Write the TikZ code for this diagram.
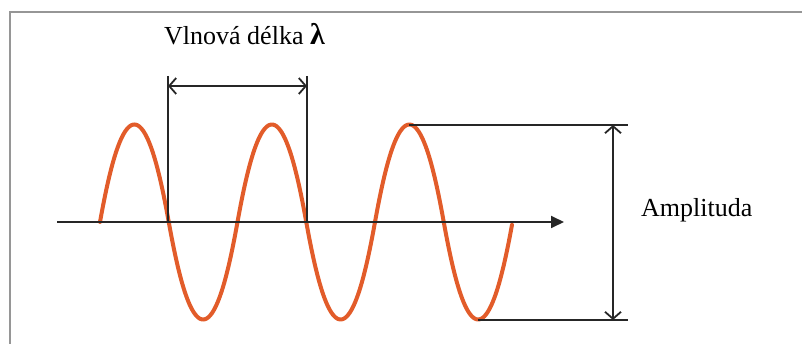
\documentclass[tikz,border=0pt]{standalone}
\usepackage{fontspec}
\setmainfont{Liberation Serif}
\usetikzlibrary{arrows.meta}
\definecolor{wave}{RGB}{226,92,42}
\definecolor{frame}{RGB}{150,150,150}
\tikzset{
  line/.style={line width=1.8pt, black!85},
  dim/.style={line, {Straight Barb[length=7pt,width=16pt]}-{Straight Barb[length=7pt,width=16pt]}},
  lbl/.style={font=\fontsize{26}{30}\selectfont, inner sep=0pt, anchor=base west}
}
\begin{document}
\begin{tikzpicture}[x=1pt,y=-1pt]
\useasboundingbox (0,0) rectangle (802,344);
% frame
\draw[frame, line width=2pt] (10,344) -- (10,12) -- (802,12);
% coordinates
\coordinate (ax0) at (57,222);
\coordinate (ax1) at (564,222);
\coordinate (l1b) at (168,222);
\coordinate (l1t) at (168,76);
\coordinate (l2b) at (307,222);
\coordinate (l2t) at (307,76);
\coordinate (la) at (168,86);
\coordinate (lb) at (307,86);
\coordinate (pk) at (409,125);
\coordinate (pkr) at (628,125);
\coordinate (tr) at (478,320);
\coordinate (trr) at (628,320);
\coordinate (aa) at (613,125);
\coordinate (ab) at (613,320);
% wave
\draw[wave, line width=4pt, line cap=round] plot[domain=100:512, samples=300, smooth]
  (\x, {222-97.5*sin((\x-100)/137.5*360)*(1.25/(1+0.25*abs(sin((\x-100)/137.5*360))))});
% axis
\draw[line, -{Triangle[length=13pt,width=12pt]}] (ax0) -- (ax1);
% wavelength
\draw[line] (l1t) -- (l1b);
\draw[line] (l2t) -- (l2b);
\draw[dim] (la) -- (lb);
\node[lbl] (wl) at (164,45) {Vlnová délka {\fontsize{30}{30}\selectfont\bfseries λ}};
% amplitude
\draw[line] (pk) -- (pkr);
\draw[line] (tr) -- (trr);
\draw[dim] (aa) -- (ab);
\node[lbl] (amp) at (641,217) {Amplituda};
\end{tikzpicture}
\end{document}
